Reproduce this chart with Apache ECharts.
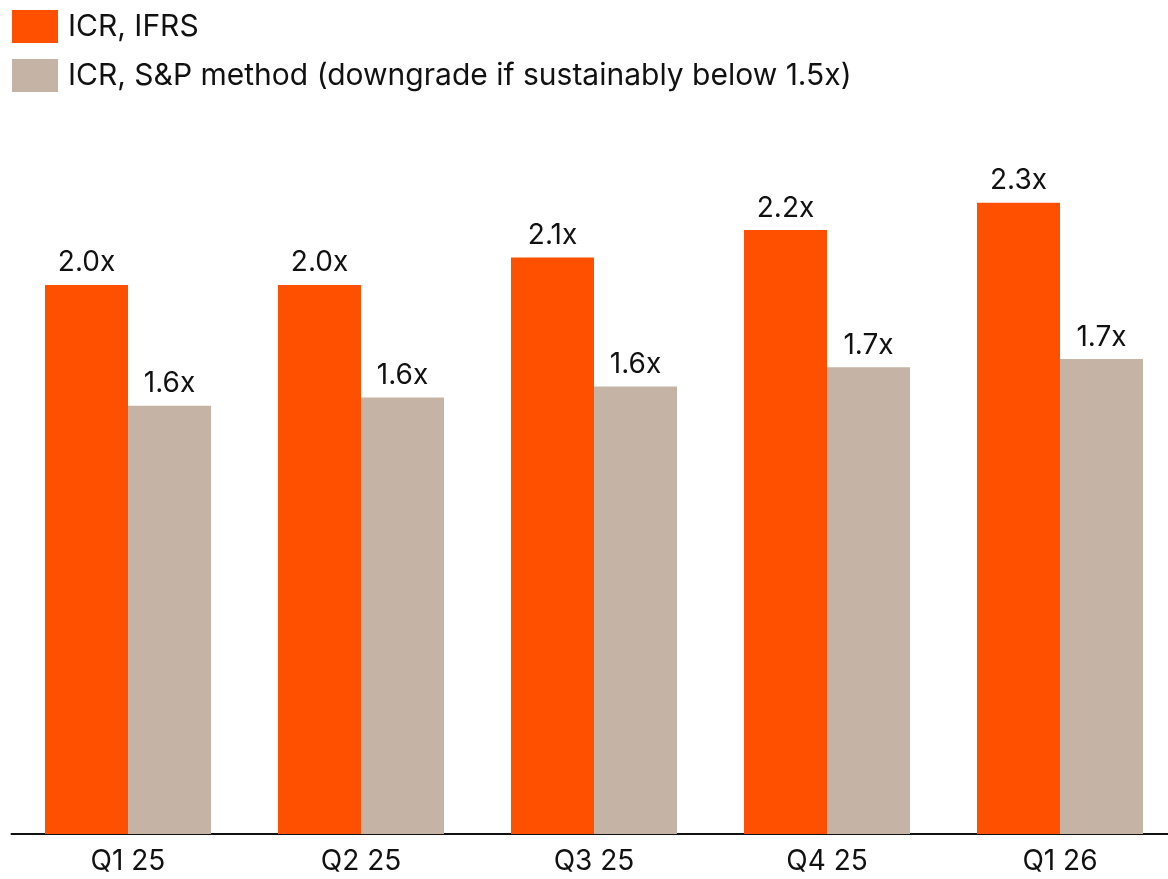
<!DOCTYPE html>
<html>
<head>
<meta charset="utf-8">
<script src="https://cdn.jsdelivr.net/npm/echarts@6/dist/echarts.min.js"></script>
<style>
  html, body { margin: 0; padding: 0; background: #fff; }
  #chart { width: 1168px; height: 879px; }
</style>
</head>
<body>
<div id="chart"></div>
<script>
const quarters = ["Q1 25", "Q2 25", "Q3 25", "Q4 25", "Q1 26"];
const icrIfrs = [2.0, 2.0, 2.1, 2.2, 2.3];
const icrSp = [1.56, 1.59, 1.63, 1.70, 1.73];
const seriesNames = ["ICR, IFRS", "ICR, S&P method (downgrade if sustainably below 1.5x)"];

const FONT = "Inter";
const chart = echarts.init(document.getElementById("chart"));

const labelStyle = {
  show: true,
  position: "top",
  distance: 8,
  fontFamily: FONT,
  fontSize: 28,
  color: "#111",
  formatter: (p) => p.value.toFixed(1) + "x",
};

chart.setOption({
  animation: false,
  color: ["#FF5000", "#C5B3A5"],
  legend: {
    orient: "vertical",
    left: 12,
    top: 10,
    padding: 0,
    itemWidth: 46,
    itemHeight: 33,
    itemGap: 16,
    icon: "rect",
    textStyle: { fontFamily: FONT, fontSize: 30, color: "#111", padding: [2, 0, 0, 5] },
    data: seriesNames,
  },
  // the last group runs past the right edge of the page, so don't clamp the grid
  grid: { left: 11.5, width: 1165, top: 10.5, bottom: 45, containLabel: false, outerBoundsMode: "none" },
  xAxis: {
    type: "category",
    data: quarters,
    axisLine: { lineStyle: { color: "#111", width: 2 } },
    axisTick: { show: false },
    axisLabel: { fontFamily: FONT, fontSize: 28, color: "#111", margin: 14 },
  },
  yAxis: {
    type: "value",
    min: 0,
    max: 3,
    show: false,
    splitLine: { show: false },
  },
  series: [
    {
      name: seriesNames[0],
      type: "bar",
      data: icrIfrs,
      barWidth: 83,
      barGap: "0%",
      label: labelStyle,
    },
    {
      name: seriesNames[1],
      type: "bar",
      data: icrSp,
      barWidth: 83,
      label: labelStyle,
    },
  ],
});
</script>
</body>
</html>
